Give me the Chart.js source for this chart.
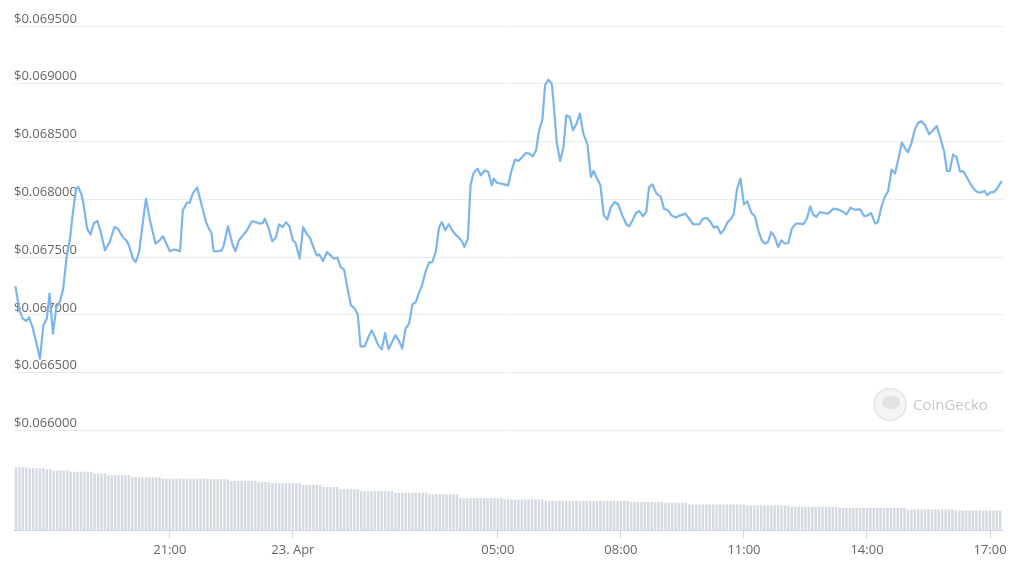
<!doctype html>
<html lang="en">
  <head>
    <meta charset="utf-8">
    <title>Price chart</title>
    <script src="https://cdn.jsdelivr.net/npm/chart.js@4.4.0/dist/chart.umd.min.js"></script>
    <style>
      body { margin: 0; background: #fff; }
      #wrap { width: 1024px; height: 564px; }
    </style>
  </head>
  <body>
    <div id="wrap"><canvas id="priceChart"></canvas></div>

    <script>
      // time = minutes since 22 Apr 00:00
      const priceTimes = [
        1034, 1040, 1045, 1050, 1054, 1059, 1065, 1070, 1075, 1080, 1084, 1089, 1094, 1099, 1104, 1109,
        1114, 1118, 1123, 1126, 1131, 1134, 1139, 1144, 1149, 1154, 1159, 1165, 1172, 1179, 1184, 1191,
        1197, 1200, 1206, 1210, 1215, 1220, 1225, 1231, 1239, 1245, 1250, 1255, 1260, 1267, 1275, 1279,
        1285, 1289, 1294, 1300, 1306, 1313, 1317, 1321, 1324, 1331, 1336, 1339, 1345, 1352, 1356, 1361,
        1367, 1373, 1380, 1386, 1391, 1396, 1399, 1404, 1410, 1415, 1420, 1425, 1430, 1435, 1440, 1444,
        1450, 1455, 1460, 1465, 1470, 1475, 1479, 1484, 1490, 1495, 1500, 1505, 1510, 1515, 1520, 1525,
        1530, 1535, 1539, 1545, 1550, 1555, 1560, 1565, 1570, 1575, 1580, 1584, 1590, 1595, 1600, 1605,
        1610, 1615, 1620, 1624, 1629, 1634, 1639, 1644, 1649, 1654, 1658, 1663, 1668, 1673, 1678, 1683,
        1688, 1691, 1696, 1700, 1704, 1710, 1715, 1721, 1726, 1731, 1734, 1739, 1745, 1755, 1760, 1765,
        1770, 1775, 1781, 1786, 1791, 1796, 1799, 1801, 1805, 1809, 1814, 1819, 1822, 1826, 1831, 1836,
        1840, 1845, 1850, 1855, 1860, 1865, 1871, 1876, 1880, 1885, 1890, 1895, 1900, 1905, 1911, 1916,
        1922, 1928, 1932, 1937, 1942, 1947, 1952, 1957, 1961, 1966, 1972, 1978, 1983, 1989, 1994, 2000,
        2007, 2014, 2018, 2026, 2035, 2040, 2046, 2051, 2056, 2061, 2066, 2071, 2076, 2080, 2085, 2090,
        2095, 2100, 2105, 2111, 2116, 2121, 2126, 2131, 2135, 2140, 2145, 2150, 2155, 2160, 2165, 2170,
        2176, 2182, 2187, 2192, 2197, 2201, 2206, 2211, 2217, 2223, 2231, 2238, 2243, 2250, 2256, 2261,
        2270, 2276, 2281, 2286, 2292, 2296, 2301, 2306, 2311, 2316, 2321, 2326, 2331, 2336, 2340, 2345,
        2350, 2355, 2360, 2365, 2371, 2376, 2382, 2387, 2393, 2397, 2401, 2406, 2411, 2416, 2421, 2426,
        2431, 2436, 2441, 2446, 2452, 2456, 2461, 2466, 2471, 2477
      ];
      const prices = [
        0.067247, 0.067039, 0.066967, 0.066946, 0.066981, 0.066894, 0.066751, 0.066621,
        0.066909, 0.066967, 0.067184, 0.066837, 0.067068, 0.067111, 0.067227, 0.067500,
        0.067660, 0.067876, 0.068093, 0.068106, 0.068035, 0.067948, 0.067746, 0.067697,
        0.067795, 0.067812, 0.067717, 0.067558, 0.067630, 0.067760, 0.067746, 0.067674,
        0.067639, 0.067602, 0.067487, 0.067457, 0.067544, 0.067775, 0.068006, 0.067818,
        0.067616, 0.067645, 0.067680, 0.067616, 0.067550, 0.067565, 0.067550, 0.067905,
        0.067971, 0.067971, 0.068055, 0.068101, 0.067963, 0.067803, 0.067746, 0.067708,
        0.067552, 0.067550, 0.067558, 0.067602, 0.067766, 0.067602, 0.067552, 0.067645,
        0.067688, 0.067732, 0.067810, 0.067803, 0.067790, 0.067795, 0.067833, 0.067760,
        0.067636, 0.067668, 0.067784, 0.067760, 0.067803, 0.067766, 0.067645, 0.067622,
        0.067487, 0.067760, 0.067703, 0.067668, 0.067587, 0.067515, 0.067521, 0.067466,
        0.067544, 0.067515, 0.067487, 0.067495, 0.067414, 0.067391, 0.067227, 0.067082,
        0.067059, 0.067004, 0.066727, 0.066727, 0.066799, 0.066866, 0.066808, 0.066736,
        0.066701, 0.066843, 0.066701, 0.066751, 0.066823, 0.066779, 0.066708, 0.066881,
        0.066924, 0.067091, 0.067111, 0.067184, 0.067255, 0.067371, 0.067452, 0.067457,
        0.067544, 0.067760, 0.067803, 0.067732, 0.067784, 0.067732, 0.067694, 0.067668,
        0.067630, 0.067587, 0.067660, 0.068121, 0.068222, 0.068266, 0.068208, 0.068251,
        0.068236, 0.068121, 0.068179, 0.068141, 0.068136, 0.068121, 0.068251, 0.068344,
        0.068332, 0.068361, 0.068401, 0.068396, 0.068372, 0.068424, 0.068554, 0.068612,
        0.068684, 0.068987, 0.069036, 0.068996, 0.068799, 0.068496, 0.068332, 0.068453,
        0.068727, 0.068712, 0.068597, 0.068655, 0.068742, 0.068569, 0.068476, 0.068193,
        0.068245, 0.068179, 0.068121, 0.067861, 0.067824, 0.067928, 0.067977, 0.067957,
        0.067861, 0.067784, 0.067766, 0.067818, 0.067881, 0.067899, 0.067853, 0.067890,
        0.068101, 0.068130, 0.068049, 0.068026, 0.067919, 0.067905, 0.067861, 0.067842,
        0.067861, 0.067876, 0.067847, 0.067784, 0.067784, 0.067833, 0.067838, 0.067803,
        0.067755, 0.067766, 0.067703, 0.067738, 0.067803, 0.067824, 0.067870, 0.068093,
        0.068179, 0.067957, 0.067983, 0.067881, 0.067853, 0.067732, 0.067645, 0.067616,
        0.067630, 0.067717, 0.067674, 0.067587, 0.067645, 0.067616, 0.067622, 0.067746,
        0.067790, 0.067790, 0.067784, 0.067833, 0.067939, 0.067870, 0.067847, 0.067890,
        0.067881, 0.067876, 0.067919, 0.067911, 0.067899, 0.067870, 0.067928, 0.067911,
        0.067913, 0.067853, 0.067861, 0.067881, 0.067790, 0.067803, 0.067933, 0.068020,
        0.068072, 0.068257, 0.068222, 0.068352, 0.068491, 0.068439, 0.068409, 0.068487,
        0.068603, 0.068664, 0.068675, 0.068641, 0.068563, 0.068591, 0.068635, 0.068539,
        0.068409, 0.068245, 0.068245, 0.068387, 0.068366, 0.068242, 0.068242, 0.068193,
        0.068136, 0.068093, 0.068063, 0.068058, 0.068072, 0.068035, 0.068063, 0.068063,
        0.068098, 0.068158
      ];

      // 24h volume, one bar every 5 minutes from 17:15
      const volumeStart = 1035;
      const volumeStep = 5;
      const volumes = [
        12.64, 12.64, 12.64, 12.64, 12.44, 12.44, 12.44, 12.44, 12.44, 12.24, 12.24,
        11.96, 11.96, 11.96, 11.96, 11.96, 11.70, 11.70, 11.70, 11.70, 11.70, 11.70, 11.70,
        11.36, 11.36, 11.36, 11.36, 11.04, 11.04, 11.04, 11.04, 11.04, 11.04, 11.04,
        10.64, 10.64, 10.64, 10.64, 10.64, 10.64, 10.64, 10.64, 10.64,
        10.34, 10.34, 10.34, 10.34, 10.34, 10.34, 10.34, 10.34, 10.34, 10.34, 10.34, 10.34, 10.34, 10.34,
        10.20, 10.20, 10.20, 10.20, 10.20, 10.20, 9.86, 9.86, 9.86, 9.86, 9.86, 9.86, 9.86, 9.86,
        9.66, 9.66, 9.66, 9.66, 9.40, 9.40, 9.40, 9.40, 9.40, 9.40, 9.40, 9.40, 9.40,
        9.14, 9.14, 9.14, 9.14, 9.14, 9.14, 8.66, 8.66, 8.66, 8.66, 8.66,
        8.20, 8.20, 8.20, 8.20, 8.20, 8.20, 7.86, 7.86, 7.86, 7.86, 7.86, 7.86, 7.86, 7.86, 7.86, 7.86,
        7.54, 7.54, 7.54, 7.54, 7.54, 7.54, 7.54, 7.54, 7.54, 7.54,
        7.20, 7.20, 7.20, 7.20, 7.20, 7.20, 7.20, 7.20, 7.20,
        6.40, 6.40, 6.40, 6.40, 6.40, 6.40, 6.40, 6.40, 6.40, 6.40, 6.40, 6.40, 6.40,
        6.20, 6.20, 6.20, 6.20, 6.20, 6.20, 6.20, 6.20, 6.20, 6.20, 6.20, 6.20,
        5.86, 5.86, 5.86, 5.86, 5.86, 5.86, 5.86, 5.86, 5.86, 5.86, 5.86, 5.86, 5.86,
        5.86, 5.86, 5.86, 5.86, 5.86, 5.86, 5.86, 5.86, 5.86, 5.86, 5.86, 5.86,
        5.66, 5.66, 5.66, 5.66, 5.66, 5.66, 5.66, 5.66, 5.66, 5.66,
        5.54, 5.54, 5.54, 5.54, 5.54, 5.54, 5.54,
        5.20, 5.20, 5.20, 5.20, 5.20, 5.20, 5.20, 5.20, 5.20, 5.20, 5.20, 5.20, 5.20, 5.20, 5.20, 5.20, 5.20,
        5.00, 5.00, 5.00, 5.00, 5.00, 5.00, 5.00, 5.00, 5.00, 5.00, 5.00, 5.00, 5.00,
        4.74, 4.74, 4.74, 4.74, 4.74, 4.74, 4.74, 4.74, 4.74, 4.74, 4.74, 4.74, 4.74, 4.74,
        4.54, 4.54, 4.54, 4.54, 4.54, 4.54, 4.54, 4.54, 4.54, 4.54,
        4.54, 4.54, 4.54, 4.54, 4.54, 4.54, 4.54, 4.54, 4.54, 4.54,
        4.20, 4.20, 4.20, 4.20, 4.20, 4.20, 4.20, 4.20, 4.20, 4.20, 4.20, 4.20, 4.20, 4.20,
        4.00, 4.00, 4.00, 4.00, 4.00, 4.00, 4.00, 4.00, 4.00, 4.00, 4.00, 4.00, 4.00, 4.00
      ];

      const tickTimes = [1260, 1440, 1740, 1920, 2100, 2280, 2460];
      const tickLabels = ["21:00", "23. Apr", "05:00", "08:00", "11:00", "14:00", "17:00"];
      const priceTicks = [0.066, 0.0665, 0.067, 0.0675, 0.068, 0.0685, 0.069, 0.0695];

      function buildPoints(xs, ys){
        return ys.map((y, i) => ({x: xs[i], y: y}));
      }

      const volumePoints = volumes.map((v, i) => ({x: volumeStart + i * volumeStep, y: v}));

      const watermark = {
        id: "watermark",
        beforeDatasetsDraw(chart){
          const ctx = chart.ctx;
          const a = chart.chartArea;
          const cx = a.right - 113, cy = a.bottom - 126;
          ctx.save();
          ctx.beginPath();
          ctx.arc(cx, cy, 16, 0, Math.PI * 2);
          ctx.fillStyle = "#f4f4f4";
          ctx.fill();
          ctx.strokeStyle = "#e4e4e4";
          ctx.lineWidth = 1.5;
          ctx.stroke();
          ctx.beginPath();
          ctx.ellipse(cx + 1, cy - 2, 9, 7, 0, 0, Math.PI * 2);
          ctx.fillStyle = "#e2e2e2";
          ctx.fill();
          ctx.fillStyle = "#c6c6c6";
          ctx.font = "15px 'Open Sans', sans-serif";
          ctx.textBaseline = "middle";
          ctx.fillText("CoinGecko", cx + 23, cy + 1);
          ctx.restore();
        }
      };

      Chart.defaults.font.family = "'Open Sans', sans-serif";
      Chart.defaults.font.size = 13;
      Chart.defaults.color = "#666666";

      const ctx = document.getElementById("priceChart").getContext("2d");
      const chart = new Chart(ctx, {
        data: {
          datasets: [
            {
              type: "line",
              label: "Price",
              data: buildPoints(priceTimes, prices),
              yAxisID: "y",
              borderColor: "#7cb5ec",
              borderWidth: 2.2,
              pointRadius: 0,
              tension: 0,
              borderJoinStyle: "round",
              order: 0
            },
            {
              type: "bar",
              label: "Volume",
              data: volumePoints,
              yAxisID: "vol",
              backgroundColor: "#d5dae0",
              barPercentage: 0.72,
              categoryPercentage: 1,
              order: 1
            }
          ]
        },
        options: {
          responsive: true,
          maintainAspectRatio: false,
          animation: false,
          layout: { padding: { left: 14, right: 21, top: 26, bottom: 2 } },
          plugins: { legend: { display: false }, tooltip: { enabled: false } },
          scales: {
            x: {
              type: "linear",
              min: 1032,
              max: 2479,
              offset: false,
              afterBuildTicks: (scale) => { scale.ticks = tickTimes.map(v => ({value: v})); },
              ticks: {
                autoSkip: false,
                maxRotation: 0,
                padding: 4,
                callback: (value) => tickLabels[tickTimes.indexOf(value)]
              },
              grid: { offset: false, drawOnChartArea: false, drawTicks: true, tickLength: 8, color: "#ccd6eb" },
              border: { display: true, color: "#ccd6eb" }
            },
            y: {
              position: "left",
              min: 0.0651343,
              max: 0.0695,
              afterBuildTicks: (scale) => { scale.ticks = priceTicks.map(v => ({value: v})); },
              ticks: {
                mirror: true,
                padding: 0,
                labelOffset: -7,
                callback: (value) => "$" + value.toFixed(6)
              },
              grid: { color: "#ececec", drawTicks: false },
              border: { display: false }
            },
            vol: {
              display: false,
              min: 0,
              max: 100.8
            }
          }
        },
        plugins: [watermark]
      });
    </script>
  </body>
</html>
